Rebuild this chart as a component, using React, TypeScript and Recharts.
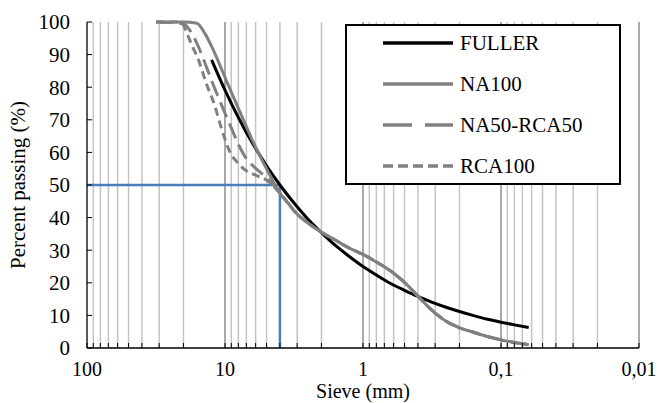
import { LineChart, Line, XAxis, YAxis, ReferenceLine, Legend } from 'recharts'

// sieve openings (mm) and % passing
const fullerSize = [12.5, 10, 8, 6.3, 5, 4, 3.15, 2.5, 2, 1.6, 1.25, 1, 0.8, 0.63, 0.5, 0.4, 0.315, 0.25, 0.2, 0.16, 0.125, 0.1, 0.08, 0.063]
const fullerPassing = [88.4, 79.1, 70.7, 62.7, 55.9, 50.0, 44.4, 39.5, 35.4, 31.6, 28.0, 25.0, 22.4, 19.8, 17.7, 15.8, 14.0, 12.5, 11.2, 10.0, 8.8, 7.9, 7.1, 6.3]

// the sand fraction is common to the three mixes
const fineSize = [4, 3.5, 3.15, 2.5, 2, 1.6, 1.25, 1, 0.8, 0.63, 0.5, 0.4, 0.34, 0.3, 0.27, 0.25, 0.22, 0.2, 0.16, 0.14, 0.12, 0.1, 0.09, 0.075, 0.068, 0.063]
const finePassing = [47.5, 44.5, 42, 38.3, 35.5, 33.2, 30.6, 28.7, 26.4, 23.6, 20.1, 15.9, 12.8, 10.7, 9.2, 8.2, 7, 6.2, 4.9, 4.1, 3.3, 2.5, 2.1, 1.5, 1.2, 1.0]

const na100Size = [31.5, 20, 16, 14, 12.5, 11.2, 10, 9, 8, 7.1, 6.3, 5.6, 5, 4.5]
const na100Passing = [100, 100, 99.6, 96.5, 92.5, 88, 83, 78.5, 73.5, 68.5, 63.5, 59, 55, 51.3]

const na50Size = [31.5, 20, 18, 16, 14, 12.5, 11.2, 10, 9, 8, 7.1, 6.3, 5.6, 5, 4.5]
const na50Passing = [100, 99.5, 97.5, 93.5, 87.5, 82, 77, 72, 67.5, 62.5, 58.5, 56, 54, 52.3, 50.2]

const rca100Size = [31.5, 22, 20, 19, 17, 15.6, 14.5, 13.5, 12.5, 11.8, 10.9, 10, 9.2, 8.2, 7.2, 6, 5, 4.5]
const rca100Passing = [100, 100, 99, 96.8, 92, 88.5, 84.5, 80.5, 77, 74, 69, 64, 60, 57.1, 54.7, 53, 51.5, 49.8]

const gridValues = [
  100, 90, 80, 70, 60, 50, 40, 30, 20,
  10, 9, 8, 7, 6, 5, 4, 3, 2,
  1, 0.9, 0.8, 0.7, 0.6, 0.5, 0.4, 0.3, 0.2,
  0.1, 0.09, 0.08, 0.07, 0.06, 0.05, 0.04, 0.03, 0.02,
  0.01,
]
const decadeValues = [100, 10, 1, 0.1, 0.01]
const decadeLabels = ['100', '10', '1', '0,1', '0,01']
const passingTicks = [0, 10, 20, 30, 40, 50, 60, 70, 80, 90, 100]

const d50 = 4

const toPoints = (sizes: number[], passing: number[]) => sizes.map((d, i) => ({ d, p: passing[i] }))

const series = [
  { name: 'FULLER', data: toPoints(fullerSize, fullerPassing), stroke: '#000000', dash: undefined, legendDash: undefined },
  { name: 'NA100', data: toPoints([...na100Size, ...fineSize], [...na100Passing, ...finePassing]), stroke: '#808080', dash: undefined, legendDash: undefined },
  { name: 'NA50-RCA50', data: toPoints([...na50Size, ...fineSize], [...na50Passing, ...finePassing]), stroke: '#808080', dash: '16 7', legendDash: '29 13' },
  { name: 'RCA100', data: toPoints([...rca100Size, ...fineSize], [...rca100Passing, ...finePassing]), stroke: '#808080', dash: '8 5', legendDash: '10 5' },
]

const FONT = '"Liberation Serif", "Times New Roman", serif'

function SieveTick({ x, y, payload }: any) {
  const i = decadeValues.indexOf(payload.value)
  return (
    <g>
      <line x1={x} y1={y} x2={x} y2={y - 5} stroke="#000" strokeWidth={1} />
      {i >= 0 && (
        <text x={x} y={y + 28} textAnchor="middle" fontFamily={FONT} fontSize={20} fill="#000">
          {decadeLabels[i]}
        </text>
      )}
    </g>
  )
}

function PassingTick({ x, y, payload }: any) {
  return (
    <g>
      <line x1={x} y1={y} x2={x + 5} y2={y} stroke="#000" strokeWidth={1} />
      <text x={x - 17} y={y} dy="0.35em" textAnchor="end" fontFamily={FONT} fontSize={21} fill="#000">
        {payload.value}
      </text>
    </g>
  )
}

function LegendBox() {
  return (
    <svg width={276} height={161} style={{ display: 'block' }}>
      <rect x={1} y={1} width={274} height={159} fill="#fff" stroke="#000" strokeWidth={2} />
      {series.map((s, i) => {
        const cy = 19 + i * 41
        return (
          <g key={s.name}>
            <line x1={38} y1={cy} x2={108} y2={cy} stroke={s.stroke} strokeWidth={3.5} strokeDasharray={s.legendDash} />
            <text x={115} y={cy} dy="0.33em" fontFamily={FONT} fontSize={21} fill="#000">
              {s.name}
            </text>
          </g>
        )
      })}
    </svg>
  )
}

export default function App() {
  return (
    <div style={{ position: 'absolute', left: 0, top: 0, background: '#fff', fontFamily: FONT }}>
      <LineChart width={658} height={403} margin={{ top: 22, right: 19, bottom: 0, left: 0 }}>
        <XAxis
          dataKey="d"
          type="number"
          scale="log"
          domain={[0.01, 100]}
          reversed
          ticks={gridValues}
          interval={0}
          height={55}
          tickSize={0}
          tickMargin={0}
          tickLine={false}
          tick={(props: any) => <SieveTick {...props} />}
          axisLine={{ stroke: '#000', strokeWidth: 1.3 }}
          label={{ value: 'Sieve (mm)', position: 'insideBottom', offset: 5, fontFamily: FONT, fontSize: 20, fill: '#000' }}
        />
        <YAxis
          type="number"
          domain={[0, 100]}
          ticks={passingTicks}
          interval={0}
          width={87}
          tickSize={0}
          tickMargin={0}
          tickLine={false}
          tick={(props: any) => <PassingTick {...props} />}
          axisLine={{ stroke: '#000', strokeWidth: 1.3 }}
          label={{
            value: 'Percent passing (%)',
            angle: -90,
            position: 'insideLeft',
            offset: 18,
            fontFamily: FONT,
            fontSize: 21,
            fill: '#000',
            style: { textAnchor: 'middle' },
          }}
        />
        {gridValues
          .filter((v) => v !== 100)
          .map((v) => (
            <ReferenceLine
              key={v}
              x={v}
              stroke={decadeValues.includes(v) ? '#8c8c8c' : '#c4c4c4'}
              strokeWidth={1.5}
            />
          ))}
        <ReferenceLine
          segment={[{ x: 100, y: 50 }, { x: d50, y: 50 }]}
          stroke="#4a7ebb"
          strokeWidth={2.5}
        />
        <ReferenceLine
          segment={[{ x: d50, y: 50 }, { x: d50, y: 0 }]}
          stroke="#4a7ebb"
          strokeWidth={2.5}
        />
        {series.map((s) => (
          <Line
            key={s.name}
            data={s.data}
            dataKey="p"
            name={s.name}
            type="monotone"
            stroke={s.stroke}
            strokeWidth={3}
            strokeDasharray={s.dash}
            dot={false}
            activeDot={false}
            isAnimationActive={false}
          />
        ))}
        <Legend
          layout="vertical"
          align="center"
          verticalAlign="middle"
          wrapperStyle={{ left: 345, top: 24, width: 276, height: 161, margin: 0 }}
          content={() => <LegendBox />}
        />
      </LineChart>
    </div>
  )
}
